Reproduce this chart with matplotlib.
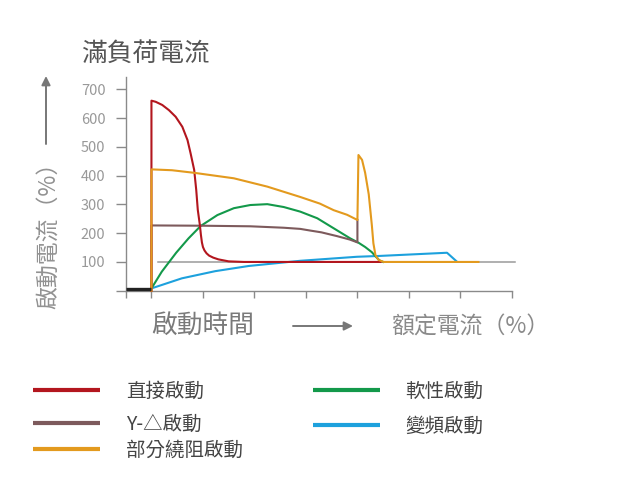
import matplotlib
matplotlib.use("Agg")
import matplotlib.pyplot as plt
from matplotlib.lines import Line2D

plt.rcParams['font.family'] = ['Noto Sans CJK TC', 'DejaVu Sans']

# ---- data (x: time ticks, y: current %) ----
red_x = [0, 0, 0.083, 0.21, 0.34, 0.47, 0.6, 0.7, 0.76, 0.83, 0.87, 0.9, 0.94, 0.96, 0.98, 1.0, 1.03, 1.07, 1.12, 1.2, 1.3, 1.5, 1.8, 4.45]
red_y = [0, 661, 657, 646, 628, 605, 570, 524, 478, 420, 350, 281, 229, 195, 168, 152, 140, 130, 122, 115, 109, 102, 100, 100]

yd_x = [0, 0, 1.0, 1.92, 2.57, 2.89, 3.09, 3.3, 3.6, 3.85, 4.0, 4.0]
yd_y = [0, 227, 226, 224, 219, 215, 209, 203, 190, 178, 168, 246]

part_x = [0, 0, 0.4, 0.83, 1.6, 2.25, 2.89, 3.27, 3.54, 3.8, 4.0, 4.02, 4.09, 4.15, 4.22, 4.28, 4.31, 4.35, 4.41, 4.51, 6.35]
part_y = [0, 422, 419, 410, 391, 362, 326, 303, 280, 264, 246, 472, 455, 410, 335, 228, 165, 124, 107, 100, 100]

soft_x = [0, 0.2, 0.48, 0.72, 0.955, 1.28, 1.6, 1.92, 2.25, 2.57, 2.89, 3.22, 3.54, 3.86, 4.02, 4.15, 4.28, 4.36, 4.43, 4.5]
soft_y = [8, 66, 132, 182, 225, 263, 287, 298, 301, 291, 275, 252, 217, 182, 167, 152, 134, 118, 105, 100]

vfd_x = [0, 0.59, 1.24, 1.89, 2.89, 3.99, 4.44, 5.74, 5.92]
vfd_y = [8, 43, 68, 86, 104, 118, 121, 132, 103]

full_load_x = [0.12, 7.06]
full_load_y = [100, 100]
pre_x = [-0.5, 0]
pre_y = [6, 6]

yticks = [0, 100, 200, 300, 400, 500, 600, 700]
ytick_labels = ['', '100', '200', '300', '400', '500', '600', '700']
xticks = [-0.5, 0, 1, 2, 3, 4, 5, 6, 7]

labels = ['直接啟動', 'Y-△啟動', '部分繞阻啟動', '軟性啟動', '變頻啟動']
colors = ['#B3161E', '#7D5A5C', '#E39A1E', '#13994A', '#1DA1DD']

title = '滿負荷電流'
ylabel = '啟動電流（%）'
xlabel_left = '啟動時間'
xlabel_right = '額定電流（%）'

# ---- figure ----
W, H = 631, 499
fig = plt.figure(figsize=(W / 100, H / 100), dpi=100)

ov = fig.add_axes([0, 0, 1, 1])
ov.set_xlim(0, W)
ov.set_ylim(H, 0)
ov.axis('off')

ax = fig.add_axes([125.7 / W, (H - 290.7) / H, (511.9 - 125.7) / W, (290.7 - 76.8) / H])
ax.set_facecolor('none')
ax.set_xlim(-0.485, 7.0)
ax.set_ylim(0, 744)

lw = 1.5
ax.plot(full_load_x, full_load_y, color='#9a9a9a', lw=1.1, zorder=1, clip_on=False)
ax.plot(vfd_x, vfd_y, color=colors[4], lw=lw, zorder=2, clip_on=False)
ax.plot(soft_x, soft_y, color=colors[3], lw=lw, zorder=3, clip_on=False)
ax.plot(yd_x, yd_y, color=colors[1], lw=lw, zorder=4, clip_on=False)
ax.plot(red_x, red_y, color=colors[0], lw=lw, zorder=5, clip_on=False)
ax.plot(part_x, part_y, color=colors[2], lw=lw, zorder=6, clip_on=False)
ax.plot(pre_x, pre_y, color='#222222', lw=2.4, zorder=7, clip_on=False, solid_capstyle='butt')

for s in ['top', 'right']:
    ax.spines[s].set_visible(False)
for s in ['left', 'bottom']:
    ax.spines[s].set_color('#8a8a8a')
    ax.spines[s].set_linewidth(1.0)

ax.set_yticks(yticks)
ax.set_yticklabels(ytick_labels)
ax.set_xticks(xticks)
ax.set_xticklabels([''] * len(xticks))
ax.tick_params(axis='y', direction='out', length=7.5, width=1.0, color='#8a8a8a',
               labelsize=10.5, labelcolor='#999999', pad=7)
ax.tick_params(axis='x', direction='out', length=5, width=1.0, color='#8a8a8a')

# ---- texts ----
tw = 'light'
ov.text(81, 54, title, fontsize=18.5, color='#555555', ha='left', va='center', fontweight=tw)
ov.text(49, 230, ylabel, fontsize=16.5, color='#929292', rotation=90, ha='center', va='center', fontweight=tw)
ov.annotate('', xy=(46, 76), xytext=(46, 144),
            arrowprops=dict(arrowstyle='-|>', color='#777777', lw=1.4, mutation_scale=13, shrinkA=0, shrinkB=0))
ov.text(151, 327, xlabel_left, fontsize=18.5, color='#7a7a7a', ha='left', va='center', fontweight=tw)
ov.annotate('', xy=(353, 326), xytext=(293, 326),
            arrowprops=dict(arrowstyle='-|>', color='#777777', lw=1.4, mutation_scale=13, shrinkA=0, shrinkB=0))
ov.text(391, 327, xlabel_right, fontsize=16.5, color='#8a8a8a', ha='left', va='center', fontweight=tw)

# ---- legend ----
leg_pos = [(33, 100, 390, 126), (33, 100, 423, 126), (33, 100, 449, 126),
           (313, 380, 390, 405), (313, 380, 425, 405)]
for (x0, x1, y, tx), lab, c in zip(leg_pos, labels, colors):
    ov.add_line(Line2D([x0, x1], [y, y], color=c, lw=3.0, solid_capstyle='butt'))
    ov.text(tx, y + 1, lab, fontsize=14, color='#444444', ha='left', va='center', fontweight=tw)

fig.savefig('out.png', dpi=100)
